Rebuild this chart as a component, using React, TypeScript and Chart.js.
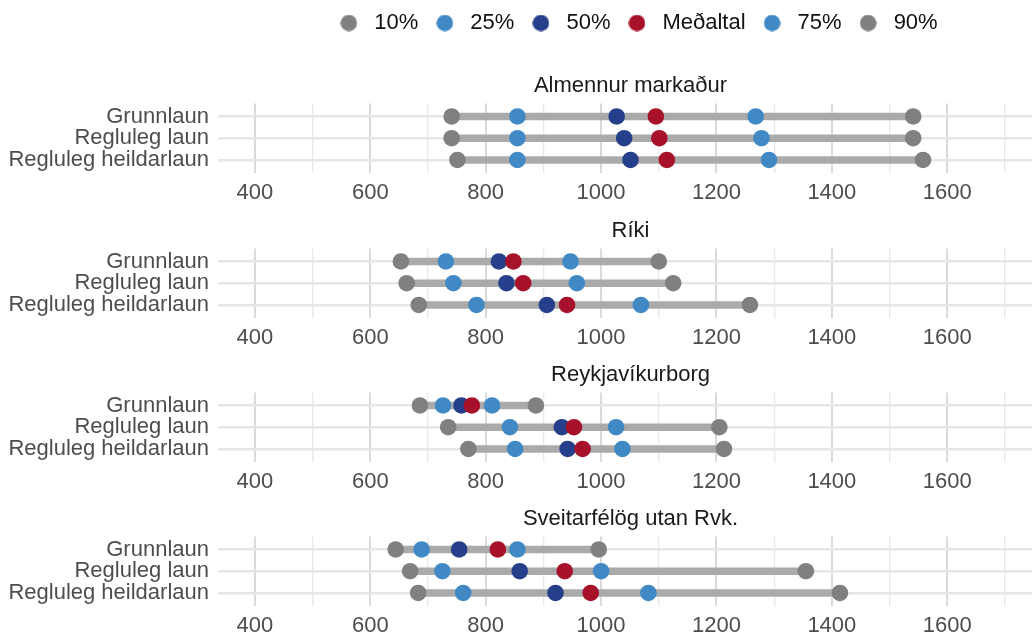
import React, { useEffect, useRef } from 'react';
import { Chart, registerables } from 'chart.js';

Chart.register(...registerables);

// ---- data ----
const panelTitles = ['Almennur markaður', 'Ríki', 'Reykjavíkurborg', 'Sveitarfélög utan Rvk.'];
const rowLabels = ['Grunnlaun', 'Regluleg laun', 'Regluleg heildarlaun'];
const seriesNames = ['10%', '25%', '50%', 'Meðaltal', '75%', '90%'];
const seriesColors = ['#808080', '#4189c4', '#263f8a', '#a7112a', '#4189c4', '#808080'];

// each array: one entry per panel, each entry = [Grunnlaun, Regluleg laun, Regluleg heildarlaun]
const p10 = [[741, 741, 751], [653, 663, 684], [686, 735, 770], [644, 669, 683]];
const p25 = [[855, 855, 855], [731, 744, 784], [726, 842, 851], [689, 725, 761]];
const p50 = [[1027, 1040, 1051], [823, 836, 906], [758, 932, 942], [754, 859, 921]];
const mean = [[1095, 1101, 1114], [848, 865, 941], [776, 953, 968], [821, 937, 982]];
const p75 = [[1268, 1278, 1291], [947, 958, 1069], [811, 1026, 1037], [855, 1000, 1082]];
const p90 = [[1541, 1541, 1558], [1100, 1125, 1258], [887, 1205, 1213], [996, 1355, 1414]];
const seriesValues = [p10, p25, p50, mean, p75, p90];

const xTicks = [400, 500, 600, 700, 800, 900, 1000, 1100, 1200, 1300, 1400, 1500, 1600, 1700];
const xMin = 336;
const xMax = 1766;

const FONT = '"Liberation Sans", Arial, sans-serif';
const FONT_SIZE = 22;
const CANVAS_W = 1043;
const PANEL_H = 132;
const LEGEND_H = 100;
const panelTops = [73.3, 217.6, 361.8, 505.8];

function makeDot(color: string): HTMLCanvasElement {
  const c = document.createElement('canvas');
  c.width = 17;
  c.height = 17;
  const g = c.getContext('2d')!;
  g.fillStyle = color;
  g.beginPath();
  g.arc(8.5, 8.5, 8.3, 0, Math.PI * 2);
  g.fill();
  return c;
}

export default function App() {
  const legendRef = useRef<HTMLCanvasElement | null>(null);
  const panelRefs = useRef<(HTMLCanvasElement | null)[]>([]);

  useEffect(() => {
    const charts: Chart[] = [];
    const dots = seriesColors.map(makeDot);

    // legend-only chart
    if (legendRef.current) {
      charts.push(
        new Chart(legendRef.current, {
          type: 'scatter',
          data: {
            datasets: seriesNames.map((n, i) => ({
              label: n,
              data: [],
              backgroundColor: seriesColors[i],
            })),
          },
          options: {
            responsive: false,
            animation: false,
            events: [],
            layout: { autoPadding: false, padding: { left: 229, right: 0, top: 0, bottom: 0 } },
            scales: { x: { display: false }, y: { display: false } },
            plugins: {
              tooltip: { enabled: false },
              title: { display: false },
              legend: {
                display: true,
                position: 'top',
                fullSize: false,
                labels: {
                  usePointStyle: true,
                  pointStyleWidth: 29,
                  boxHeight: 17,
                  padding: 12,
                  color: '#111111',
                  font: { family: FONT, size: FONT_SIZE },
                  generateLabels: () =>
                    seriesNames.map((n, i) => ({
                      text: n,
                      pointStyle: dots[i] as any,
                      fillStyle: seriesColors[i],
                      strokeStyle: seriesColors[i],
                      lineWidth: 0,
                      hidden: false,
                      datasetIndex: i,
                      fontColor: '#111111',
                    })),
                },
              },
            },
          },
        })
      );
    }

    panelTitles.forEach((title, pi) => {
      const cv = panelRefs.current[pi];
      if (!cv) return;
      const rangeSets = rowLabels.map((_, ri) => ({
        label: 'range-' + ri,
        data: [
          { x: p10[pi][ri], y: ri + 1 },
          { x: p90[pi][ri], y: ri + 1 },
        ],
        showLine: true,
        borderColor: '#aaaaaa',
        borderWidth: 7.5,
        borderCapStyle: 'butt' as const,
        pointRadius: 0,
        order: 10,
      }));
      const pointSets = seriesNames.map((n, si) => ({
        label: n,
        data: rowLabels.map((_, ri) => ({ x: seriesValues[si][pi][ri], y: ri + 1 })),
        showLine: false,
        pointRadius: 8.3,
        pointBorderWidth: 0,
        pointBackgroundColor: seriesColors[si],
        backgroundColor: seriesColors[si],
        borderColor: seriesColors[si],
        order: 6 - si,
      }));
      charts.push(
        new Chart(cv, {
          type: 'scatter',
          data: { datasets: [...rangeSets, ...pointSets] as any },
          options: {
            responsive: false,
            animation: false,
            events: [],
            layout: { autoPadding: false, padding: 0 },
            scales: {
              x: {
                type: 'linear',
                min: xMin,
                max: xMax,
                afterBuildTicks: (s: any) => {
                  s.ticks = xTicks.map((v) => ({ value: v }));
                },
                afterFit: (s: any) => {
                  s.height = 32;
                  s.paddingLeft = 0;
                  s.paddingRight = 0;
                },
                border: { display: false },
                grid: {
                  drawTicks: false,
                  color: (ctx: any) =>
                    ctx.tick && ctx.tick.value % 200 === 0 ? '#dadada' : '#e8e8e8',
                  lineWidth: (ctx: any) => (ctx.tick && ctx.tick.value % 200 === 0 ? 2 : 1.3),
                },
                ticks: {
                  autoSkip: false,
                  maxRotation: 0,
                  padding: 7,
                  color: '#4d4d4d',
                  font: { family: FONT, size: FONT_SIZE },
                  callback: (v: any) => (Number(v) % 200 === 0 ? String(v) : ''),
                },
              },
              y: {
                type: 'linear',
                reverse: true,
                min: 0.4,
                max: 3.6,
                afterBuildTicks: (s: any) => {
                  s.ticks = rowLabels.map((_, i) => ({ value: i + 1 }));
                },
                afterFit: (s: any) => {
                  s.width = 218;
                },
                border: { display: false },
                grid: {
                  drawTicks: false,
                  color: '#e6e6e6',
                  lineWidth: 2.5,
                },
                ticks: {
                  autoSkip: false,
                  padding: 9,
                  color: '#4d4d4d',
                  font: { family: FONT, size: FONT_SIZE },
                  callback: (v: any) => rowLabels[Number(v) - 1] ?? '',
                },
              },
            },
            plugins: {
              legend: { display: false },
              tooltip: { enabled: false },
              title: {
                display: true,
                text: title,
                fullSize: false,
                color: '#1a1a1a',
                font: { family: FONT, size: FONT_SIZE, weight: 'normal' },
                padding: { top: 0, bottom: 4 },
              },
            },
          },
        })
      );
    });

    return () => {
      charts.forEach((c) => c.destroy());
    };
  }, []);

  return (
    <div
      style={{
        position: 'absolute',
        left: 0,
        top: 0,
        width: 1032,
        height: 633,
        overflow: 'hidden',
        background: '#ffffff',
      }}
    >
      <canvas
        ref={legendRef}
        width={CANVAS_W}
        height={LEGEND_H}
        style={{ position: 'absolute', left: 0, top: 0, width: CANVAS_W, height: LEGEND_H }}
      />
      {panelTitles.map((t, i) => (
        <canvas
          key={t}
          ref={(el) => {
            panelRefs.current[i] = el;
          }}
          width={CANVAS_W}
          height={PANEL_H}
          style={{
            position: 'absolute',
            left: 0,
            top: panelTops[i],
            width: CANVAS_W,
            height: PANEL_H,
          }}
        />
      ))}
    </div>
  );
}
